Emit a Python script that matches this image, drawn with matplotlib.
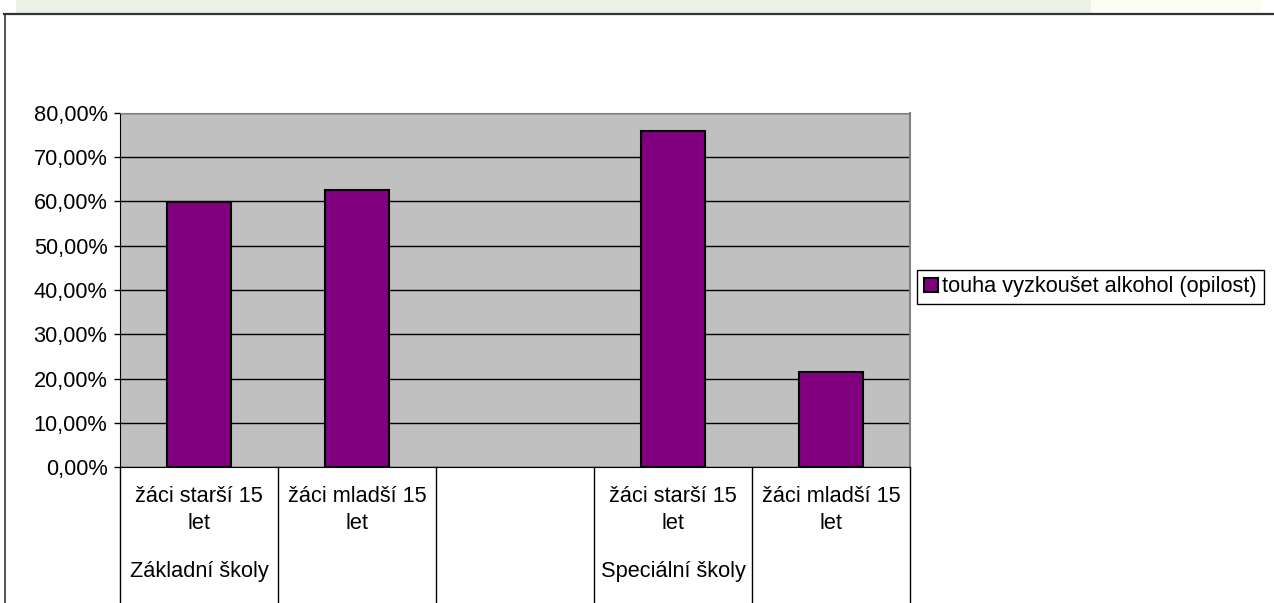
import matplotlib.pyplot as plt
from matplotlib.patches import Rectangle
from matplotlib.lines import Line2D
from matplotlib.ticker import FuncFormatter, MultipleLocator
import matplotlib.transforms as mtransforms

plt.rcParams['font.family'] = ['Liberation Sans', 'DejaVu Sans']

# data
categories = ['žáci starší 15\nlet', 'žáci mladší 15\nlet', '', 'žáci starší 15\nlet', 'žáci mladší 15\nlet']
groups = ['Základní školy', 'Speciální školy']
group_pos = [0, 3]
values = [0.60, 0.625, None, 0.76, 0.215]
series_name = 'touha vyzkoušet alkohol (opilost)'

FS = 15.7
W, H = 1274, 603
fig = plt.figure(figsize=(W / 100, H / 100), dpi=100)
fig.patch.set_facecolor('white')

# page background strip above the chart frame
fig.patches.append(Rectangle((16 / W, 1 - 13 / H), 1075 / W, 13 / H, transform=fig.transFigure,
                             facecolor='#ecf1e7', edgecolor='none', zorder=0))
fig.patches.append(Rectangle((1091 / W, 1 - 13 / H), 170 / W, 13 / H, transform=fig.transFigure,
                             facecolor='#fbfcf2', edgecolor='none', zorder=0))
# chart frame
fig.add_artist(Line2D([4 / W, 1], [1 - 13.5 / H, 1 - 13.5 / H], transform=fig.transFigure,
                      color='#333333', lw=1.6))
fig.add_artist(Line2D([4.5 / W, 4.5 / W], [0, 1 - 13.5 / H], transform=fig.transFigure,
                      color='#333333', lw=1.2))

ax = fig.add_axes([120 / W, 1 - 467 / H, 790 / W, 354 / H])
ax.set_facecolor('#c0c0c0')

xs = [i for i, v in enumerate(values) if v is not None]
hs = [v for v in values if v is not None]
ax.bar(xs, hs, width=0.4, color='#800080', edgecolor='black', linewidth=1.5,
       label=series_name, zorder=3)

ax.set_xlim(-0.5, len(categories) - 0.5)
ax.set_ylim(0, 0.8)
ax.yaxis.set_major_locator(MultipleLocator(0.1))
ax.yaxis.set_major_formatter(FuncFormatter(lambda v, p: f'{v * 100:.2f}%'.replace('.', ',')))
ax.grid(axis='y', color='black', linewidth=1, zorder=1)
ax.set_axisbelow(True)
ax.tick_params(axis='y', length=4, width=1, labelsize=FS, pad=5, direction='out')
ax.tick_params(axis='x', length=0, labelbottom=False)
ax.spines['top'].set_color('#808080')
ax.spines['right'].set_color('#808080')
ax.spines['right'].set_linewidth(1.5)
ax.spines['left'].set_color('black')
ax.spines['bottom'].set_color('black')

# category table under the axis
trans = mtransforms.blended_transform_factory(ax.transData, fig.transFigure)
bottom_y = 1 - 467 / H
for b in [i - 0.5 for i in range(len(categories) + 1)]:
    ax.add_artist(Line2D([b, b], [0, bottom_y], transform=trans, color='black', lw=1, clip_on=False))
for i, lab in enumerate(categories):
    if lab:
        ax.text(i, 1 - 510 / H, lab, transform=trans, ha='center', va='center',
                fontsize=FS, linespacing=1.38)
for pos, g in zip(group_pos, groups):
    ax.text(pos, 1 - 571 / H, g, transform=trans, ha='center', va='center', fontsize=FS)

leg = ax.legend(loc='center', bbox_to_anchor=(1090.5 / W, 1 - 287 / H), bbox_transform=fig.transFigure,
                fontsize=FS, frameon=True, fancybox=False, framealpha=1, edgecolor='black',
                handlelength=0.65, handleheight=0.65, handletextpad=0.2, borderpad=0.3,
                borderaxespad=0)
leg.get_frame().set_linewidth(1)

fig.savefig('out.png', dpi=100)
